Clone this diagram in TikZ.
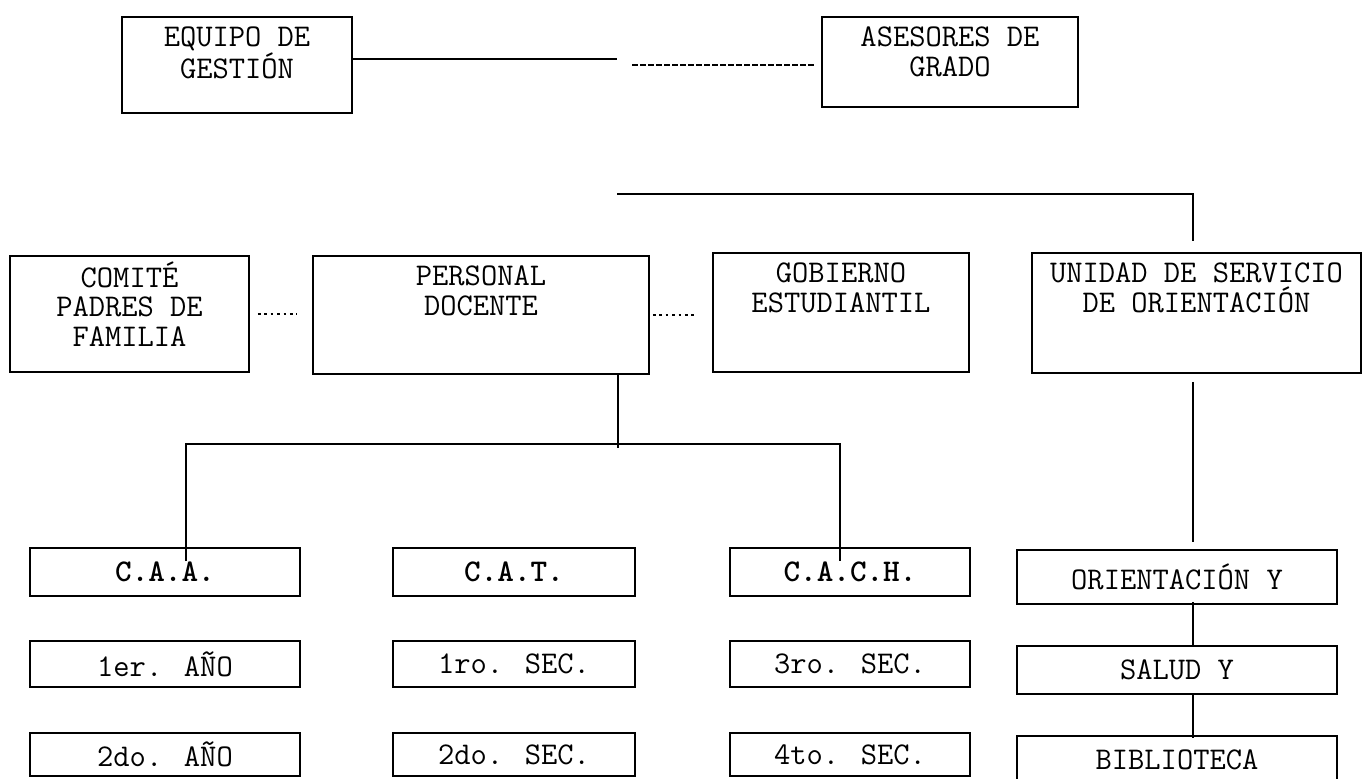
\documentclass[tikz,border=0pt]{standalone}
\usepackage{fontspec}
\usepackage{tikz}
\usetikzlibrary{fit}
\newfontfamily\orgfont{Latin Modern Mono}
\newfontfamily\orgbold{lmmonolt10-bold.otf}
\newcommand{\orgtop}{\rule{0pt}{12pt}}

\begin{document}
\begin{tikzpicture}[x=0.5pt,y=-0.5pt,
  box/.style={draw,line width=0.9pt,inner sep=0pt},
  txt/.style={font=\orgfont\fontsize{15.8}{14.8}\selectfont,align=center,inner sep=0pt},
  toptxt/.style={txt,anchor=north,yshift=-3pt},
  link/.style={line width=0.9pt},
  dashlink/.style={line width=1pt,dash pattern=on 3pt off 1pt},
  dotlink/.style={line width=1.3pt,dash pattern=on 1.3pt off 1.9pt}]
  \useasboundingbox (0,0) rectangle (1362,778);
  % top row
  \node[box,fit={(122,17) (352,113)}] (gestion) {};
  \node[toptxt] (gestion-t) at (gestion.north) {\orgtop EQUIPO DE\\GESTIÓN};
  \node[box,fit={(822,17) (1078,107)}] (asesores) {};
  \node[toptxt] (asesores-t) at (asesores.north) {\orgtop ASESORES DE\\GRADO};
  % second row
  \node[box,fit={(10,256) (249,372)}] (comite) {};
  \node[toptxt] (comite-t) at (comite.north) {\orgtop COMITÉ\\PADRES DE\\FAMILIA};
  \node[box,fit={(313,256) (649,374)}] (personal) {};
  \node[toptxt] (personal-t) at (personal.north) {\orgtop PERSONAL\\DOCENTE};
  \node[box,fit={(713,253) (969,372)}] (gobierno) {};
  \node[toptxt] (gobierno-t) at (gobierno.north) {\orgtop GOBIERNO\\ESTUDIANTIL};
  \node[box,fit={(1032,253) (1361,373)}] (unidad) {};
  \node[toptxt] (unidad-t) at (unidad.north) {\orgtop UNIDAD DE SERVICIO\\DE ORIENTACIÓN};
  % committees and grades
  \foreach \name/\xa/\xb/\a/\b/\c in {caa/30/300/{\orgbold C.A.A.}/1er. AÑO/2do. AÑO,
      cat/393/635/{\orgbold C.A.T.}/1ro. SEC./2do. SEC.,
      cach/730/970/{\orgbold C.A.C.H.}/3ro. SEC./4to. SEC.}{
    \node[box,fit={(\xa,548) (\xb,596)},label={[txt]center:\a}] (\name) {};
    \node[box,fit={(\xa,641) (\xb,687)},label={[txt]center:\b}] (\name-2) {};
    \node[box,fit={(\xa,733) (\xb,776)},label={[txt]center:\c}] (\name-3) {};
  }
  % orientation column
  \node[box,fit={(1017,550) (1337,604)},label={[txt]center:ORIENTACIÓN Y}] (orient) {};
  \node[box,fit={(1017,646) (1337,694)},label={[txt]center:SALUD Y}] (salud) {};
  \node[box,fit={(1017,736) (1337,784)},label={[txt]center:BIBLIOTECA}] (biblio) {};
  % links
  \coordinate (gend) at (617,59);
  \coordinate (dstart) at (632,65);
  \draw[link] ([yshift=3pt]gestion.east) -- (gend);
  \draw[dashlink] (dstart) -- ([xshift=-3pt]asesores.west |- dstart);
  \coordinate (bus) at (617,194);
  \coordinate (usv) at (1193,241);
  \draw[link] (bus) -| (usv);
  \draw[link] ([yshift=-4pt]usv |- unidad.south) -- ([yshift=3.5pt]usv |- orient.north);
  \draw[link] ([yshift=1.5pt]usv |- orient.south) -- ([yshift=-1pt]usv |- salud.north);
  \draw[link] ([yshift=0.5pt]usv |- salud.south) -- ([yshift=-1.5pt]usv |- biblio.north);
  \coordinate (pd) at (618,448);
  \coordinate (lt) at (186,444);
  \coordinate (rt) at (840,444);
  \draw[link] (pd |- personal.south) -- (pd);
  \draw[link] ([yshift=5.5pt]lt |- caa.center) -- (lt) -- (rt) -- ([yshift=5.5pt]rt |- cach.center);
  % dotted links
  \draw[dotlink] ([xshift=4pt]comite.east) -- ([xshift=-7.5pt]personal.west |- comite.east);
  \draw[dotlink] ([xshift=1.5pt]personal.east) -- ([xshift=-7.5pt]gobierno.west |- personal.east);
\end{tikzpicture}
\end{document}
